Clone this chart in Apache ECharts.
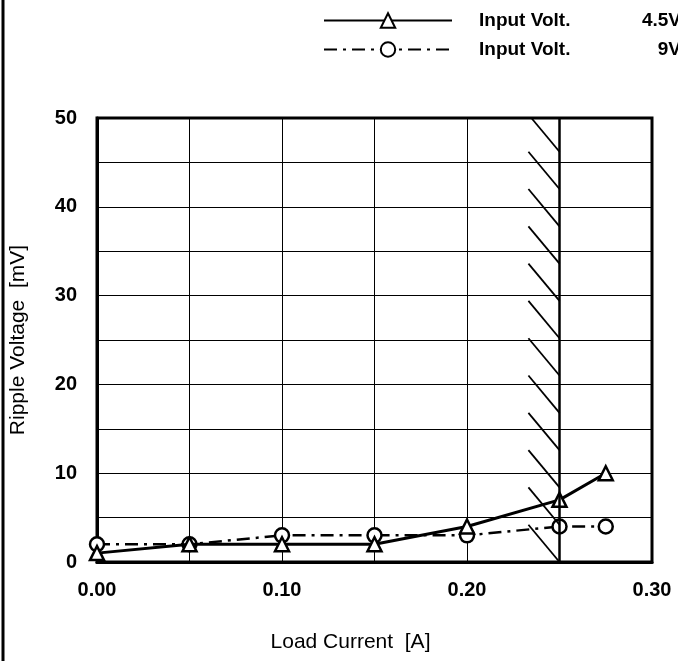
<!DOCTYPE html>
<html><head><meta charset="utf-8">
<script src="https://cdn.jsdelivr.net/npm/echarts@6/dist/echarts.min.js"></script>
<style>html,body{margin:0;padding:0;background:#fff}#c{width:678px;height:661px}</style>
</head><body><div id="c"></div>
<script>
const loadCurrent = [0, 0.05, 0.10, 0.15, 0.20, 0.25, 0.275];
const ripple45V = [1, 2, 2, 2, 4, 7, 10];
const ripple9V = [2, 2, 3, 3, 3, 4, 4];
const seriesNames = ['Input Volt. 4.5V', 'Input Volt. 9V'];
const legendLabels = ['Input Volt.', 'Input Volt.'];
const legendVolts = ['4.5V', '9V'];
const xTickLabels = ['0.00', '0.10', '0.20', '0.30'];
const yTickLabels = ['0', '10', '20', '30', '40', '50'];
const limitCurrent = 0.25;
const hatchEnds = [0, 4.2, 8.4, 12.6, 16.8, 21.0, 25.2, 29.4, 33.6, 37.8, 42.0, 46.2];
const hatchRise = 4.2;
const hatchRun = 0.0168;

const FONT = '"Liberation Sans", Arial, sans-serif';
const chart = echarts.init(document.getElementById('c'), null, {renderer: 'canvas'});

const pairs = (xs, ys) => xs.map((x, i) => [x, ys[i]]);
const yMax = 50;
const hatchData = hatchEnds.map(e => {
  let top = e + hatchRise, x0 = limitCurrent - hatchRun;
  if (top > yMax) { x0 = limitCurrent - hatchRun * (yMax - e) / hatchRise; top = yMax; }
  return [{coord: [x0, top]}, {coord: [limitCurrent, e]}];
});

chart.setOption({
  animation: false,
  backgroundColor: '#fff',
  grid: {left: 97, right: 26, top: 118, bottom: 99, show: true, borderColor: '#000', borderWidth: 3, outerBoundsMode: 'none', containLabel: false},
  legend: {
    orient: 'vertical', left: 318, top: 6, itemWidth: 128, itemHeight: 18, itemGap: 10,
    data: seriesNames,
    formatter: n => { const i = seriesNames.indexOf(n); return '{a|' + legendLabels[i] + '}{b|' + legendVolts[i] + '}'; },
    textStyle: {
      color: '#000', fontFamily: FONT, fontSize: 19, fontWeight: 'bold',
      rich: {
        a: {fontFamily: FONT, fontSize: 19, fontWeight: 'bold', color: '#000', width: 140, padding: [0, 0, 0, 22]},
        b: {fontFamily: FONT, fontSize: 19, fontWeight: 'bold', color: '#000', width: 62, align: 'right'}
      }
    }
  },
  xAxis: {
    type: 'value', min: 0, max: 0.30, interval: 0.05,
    name: 'Load Current  [A]', nameLocation: 'middle', nameGap: 70,
    nameTextStyle: {fontFamily: FONT, fontSize: 21, color: '#000', padding: [0, 48, 0, 0]},
    axisLine: {show: true, lineStyle: {color: '#000', width: 3}},
    axisTick: {show: false},
    splitLine: {show: true, lineStyle: {color: '#000', width: 1}},
    axisLabel: {
      margin: 18, color: '#000', fontFamily: FONT, fontSize: 20, fontWeight: 'bold',
      formatter: v => { const k = Math.round(v * 20); return k % 2 === 0 ? xTickLabels[k / 2] : ''; }
    }
  },
  yAxis: {
    type: 'value', min: 0, max: 50, interval: 5,
    name: 'Ripple Voltage  [mV]', nameLocation: 'middle', nameGap: 68, nameRotate: 90,
    nameTextStyle: {fontFamily: FONT, fontSize: 21, color: '#000'},
    axisLine: {show: true, lineStyle: {color: '#000', width: 3}},
    axisTick: {show: false},
    splitLine: {show: true, lineStyle: {color: '#000', width: 1}},
    axisLabel: {
      margin: 20, color: '#000', fontFamily: FONT, fontSize: 20, fontWeight: 'bold',
      formatter: v => { const k = Math.round(v / 5); return k % 2 === 0 ? yTickLabels[k / 2] : ''; }
    }
  },
  graphic: [{type: 'line', shape: {x1: 3, y1: 0, x2: 3, y2: 661}, style: {stroke: '#000', lineWidth: 3}}],
  series: [
    {
      name: seriesNames[0], type: 'line', data: pairs(loadCurrent, ripple45V),
      symbol: 'triangle', symbolSize: 14, showSymbol: true,
      lineStyle: {color: '#000', width: 3, type: 'solid'},
      itemStyle: {color: '#fff', borderColor: '#000', borderWidth: 2.5},
      z: 3,
      markLine: {
        silent: true, symbol: ['none', 'none'], label: {show: false},
        lineStyle: {color: '#000', width: 1.8, type: 'solid'},
        data: [{xAxis: limitCurrent, lineStyle: {width: 2.5}}].concat(hatchData)
      }
    },
    {
      name: seriesNames[1], type: 'line', data: pairs(loadCurrent, ripple9V),
      symbol: 'circle', symbolSize: 14, showSymbol: true,
      lineStyle: {color: '#000', width: 2.5, type: [13, 6, 3, 6]},
      itemStyle: {color: '#fff', borderColor: '#000', borderWidth: 2.5},
      z: 2
    }
  ]
});
</script></body></html>
